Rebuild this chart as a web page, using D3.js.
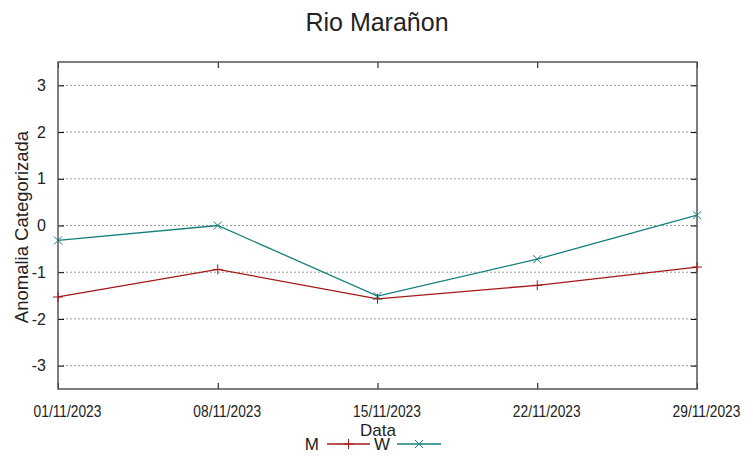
<!DOCTYPE html>
<html>
<head>
<meta charset="utf-8">
<script src="https://cdn.jsdelivr.net/npm/d3@7"></script>
<style>
body { margin: 0; background: #fff; }
text { font-family: "Liberation Sans", Arial, sans-serif; fill: #222; }
</style>
</head>
<body>
<script>
var dates = ["01/11/2023", "08/11/2023", "15/11/2023", "22/11/2023", "29/11/2023"];
var valuesM = [-1.53, -0.94, -1.57, -1.28, -0.89];
var valuesW = [-0.32, 0.0, -1.51, -0.72, 0.22];
var yTicks = [-3, -2, -1, 0, 1, 2, 3];

var svg = d3.select("body").append("svg")
  .attr("width", 753).attr("height", 459);

var plotLeft = 58, plotRight = 697, plotTop = 62, plotBottom = 389;

var x = d3.scalePoint().domain(dates).range([plotLeft, plotRight]);
var y = d3.scaleLinear().domain([-3.5, 3.5]).range([plotBottom, plotTop]);

// grid
svg.append("g").selectAll("line")
  .data(yTicks).enter().append("line")
  .attr("x1", plotLeft).attr("x2", plotRight)
  .attr("y1", function(d) { return y(d); })
  .attr("y2", function(d) { return y(d); })
  .style("stroke", "#999").style("stroke-width", 1)
  .style("stroke-dasharray", "2,2");

// axes
var yAxis = svg.append("g").attr("transform", "translate(" + plotLeft + ",0)")
  .call(d3.axisLeft(y).tickValues(yTicks).tickSize(-6).tickPadding(12)
    .tickFormat(function(d) { return d.toString(); }));
var yAxisR = svg.append("g").attr("transform", "translate(" + plotRight + ",0)")
  .call(d3.axisRight(y).tickValues(yTicks).tickSize(-6).tickFormat(""));
var xAxis = svg.append("g").attr("transform", "translate(0," + plotBottom + ")")
  .call(d3.axisBottom(x).tickSize(-6).tickPadding(17));
var xAxisT = svg.append("g").attr("transform", "translate(0," + plotTop + ")")
  .call(d3.axisTop(x).tickSize(-6).tickFormat(""));

[yAxis, yAxisR, xAxis, xAxisT].forEach(function(a) {
  a.select(".domain").remove();
  a.selectAll(".tick line").style("stroke", "#000");
});
yAxis.selectAll(".tick text").style("font-size", "16px").style("font-family", "Liberation Sans").style("fill", "#222");
xAxis.selectAll(".tick text").style("font-size", "16px").style("font-family", "Liberation Sans")
  .style("fill", "#222").attr("transform", "translate(9,0) scale(0.86,1)");

// frame
svg.append("rect").attr("x", plotLeft).attr("y", plotTop)
  .attr("width", plotRight - plotLeft).attr("height", plotBottom - plotTop)
  .style("fill", "none").style("stroke", "#555").style("stroke-width", 1.5);

// lines
var line = d3.line()
  .x(function(d, i) { return x(dates[i]); })
  .y(function(d) { return y(d); });

svg.append("path").datum(valuesM).attr("d", line)
  .style("fill", "none").style("stroke", "#a31818").style("stroke-width", 1.3);
svg.append("path").datum(valuesW).attr("d", line)
  .style("fill", "none").style("stroke", "#137e7e").style("stroke-width", 1.3);

// markers
function plusPath(cx, cy) {
  return "M" + (cx - 5) + "," + cy + "H" + (cx + 5) + "M" + cx + "," + (cy - 5) + "V" + (cy + 5);
}
function crossPath(cx, cy) {
  return "M" + (cx - 4) + "," + (cy - 4) + "L" + (cx + 4) + "," + (cy + 4) +
    "M" + (cx - 4) + "," + (cy + 4) + "L" + (cx + 4) + "," + (cy - 4);
}
svg.append("g").selectAll("path").data(valuesM).enter().append("path")
  .attr("d", function(d, i) { return plusPath(x(dates[i]), y(d)); })
  .style("stroke", "#a31818").style("stroke-width", 1);
svg.append("g").selectAll("path").data(valuesW).enter().append("path")
  .attr("d", function(d, i) { return crossPath(x(dates[i]), y(d)); })
  .style("stroke", "#137e7e").style("stroke-width", 1);

// titles
svg.append("text").attr("x", 377).attr("y", 31).attr("text-anchor", "middle")
  .style("font-size", "25px").text("Rio Marañon");
svg.append("text").attr("x", 378).attr("y", 436).attr("text-anchor", "middle")
  .style("font-size", "17px").text("Data");
svg.append("text").attr("transform", "translate(28,227) rotate(-90)")
  .attr("text-anchor", "middle").style("font-size", "18.5px").text("Anomalia Categorizada");

// legend
var legend = [
  { name: "M", color: "#a31818", tx: 319, x1: 327, x2: 370, marker: "plus" },
  { name: "W", color: "#137e7e", tx: 390, x1: 397, x2: 441, marker: "cross" }
];
var lg = svg.append("g").selectAll("g").data(legend).enter().append("g");
lg.append("text").attr("x", function(d) { return d.tx; }).attr("y", 450)
  .attr("text-anchor", "end").style("font-size", "17px")
  .text(function(d) { return d.name; });
lg.append("line").attr("x1", function(d) { return d.x1; }).attr("x2", function(d) { return d.x2; })
  .attr("y1", 444).attr("y2", 444)
  .style("stroke", function(d) { return d.color; }).style("stroke-width", 1.3);
lg.append("path").attr("d", function(d) {
    var cx = (d.x1 + d.x2) / 2;
    return d.marker == "plus" ? plusPath(cx, 444) : crossPath(cx, 444);
  })
  .style("stroke", function(d) { return d.color; }).style("stroke-width", 1);
</script>
</body>
</html>
